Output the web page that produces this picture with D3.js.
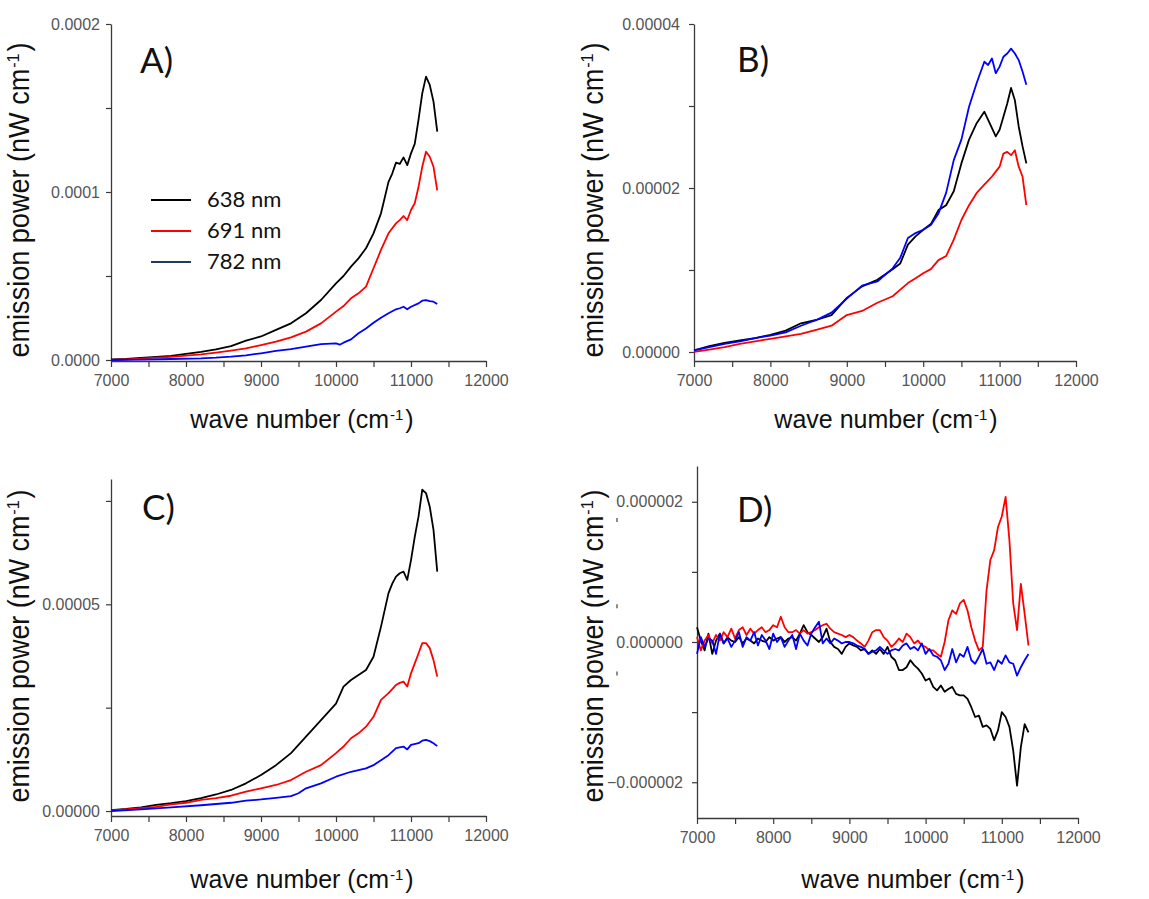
<!DOCTYPE html>
<html>
<head>
<meta charset="utf-8">
<script src="https://cdn.jsdelivr.net/npm/d3@7"></script>
<style>
  body { margin: 0; background: #fff; }
  svg text { font-family: Arial, "Liberation Sans", sans-serif; }
</style>
</head>
<body>
<svg width="1149" height="899"></svg>
<script>
// all emission values are in units of 1e-6 nW cm-1

// panel A
const waveA = [7000, 7200, 7400, 7600, 7800, 8000, 8200, 8400, 8600, 8800, 9000, 9200, 9400, 9600, 9800, 10000,
  10100, 10200, 10300, 10400, 10500, 10600, 10700, 10750, 10800, 10850, 10900, 10950, 11000, 11050, 11100, 11150,
  11200, 11250, 11300, 11350];
const a638 = [0.4, 0.6, 1.2, 1.8, 2.4, 3.6, 4.8, 6.3, 8.3, 11.5, 14.0, 17.9, 21.8, 27.8, 35.7, 45.6,
  50, 55.6, 60.5, 66.5, 75.4, 87.3, 106, 111, 117.5, 116.7, 120.6, 116, 123, 128.6, 142.9, 158.7,
  168.7, 163.7, 153.8, 135.9];
const a691 = [0, 0.4, 0.8, 1.4, 1.8, 2.6, 3.4, 4.4, 5.6, 6.9, 8.9, 10.9, 13.5, 16.9, 21.8, 28.8,
  32.1, 36.7, 39.7, 43.7, 54.6, 65.5, 75.4, 78.4, 81.3, 83.3, 85.7, 83.3, 89.3, 93.3, 103, 115,
  124, 121, 115, 101];
const waveA782 = [7000, 7400, 7800, 8200, 8400, 8600, 8800, 9000, 9200, 9400, 9600, 9800, 10000, 10050, 10100,
  10200, 10300, 10400, 10500, 10600, 10700, 10800, 10850, 10900, 10950, 11000, 11100, 11150, 11200, 11250, 11300, 11350];
const a782 = [0, 0.2, 0.6, 1.0, 1.4, 2.0, 2.8, 4.0, 5.4, 6.5, 7.9, 9.5, 9.9, 9.1, 10.3,
  12.3, 15.9, 18.8, 22.2, 25.2, 27.8, 30.2, 30.8, 31.7, 30.2, 31.7, 33.7, 35.3, 35.7, 35.1, 34.7, 33.3];

// panel B
const waveB = [7000, 7200, 7400, 7600, 7800, 8000, 8200, 8400, 8600, 8800, 9000, 9200, 9400,
  9600, 9700, 9800, 9900, 10000, 10100, 10200, 10300, 10400, 10500, 10600, 10700, 10800, 10850, 10900, 10950,
  11000, 11050, 11100, 11150, 11200, 11250, 11300, 11350];
const b638 = [0.2, 0.7, 1.1, 1.4, 1.7, 2.1, 2.6, 3.5, 3.9, 4.5, 6.6, 8.0, 8.8,
  10.1, 10.8, 13.1, 14.1, 14.9, 15.6, 17.3, 17.9, 19.6, 23.0, 25.9, 27.9, 29.3, 28.3, 27.3, 26.3,
  27.1, 28.7, 30.3, 32.2, 30.7, 27.5, 25.1, 23.0];
const b691 = [0.0, 0.3, 0.6, 1.0, 1.3, 1.6, 1.9, 2.2, 2.7, 3.2, 4.5, 5.0, 6.0,
  6.8, 7.6, 8.4, 9.0, 9.6, 10.1, 11.2, 11.7, 13.7, 16.1, 17.9, 19.4, 20.4, 20.9, 21.4, 22.0,
  22.6, 24.2, 24.4, 24.0, 24.6, 22.6, 21.4, 17.9];
const b782 = [0.2, 0.6, 1.0, 1.3, 1.7, 2.0, 2.4, 3.2, 3.9, 4.8, 6.5, 8.1, 8.6,
  10.2, 11.5, 13.9, 14.5, 14.9, 15.5, 16.9, 19.4, 23.4, 25.9, 29.9, 32.8, 35.4, 35.0, 35.8, 34.0,
  34.8, 36.0, 36.4, 37.0, 36.4, 35.6, 34.2, 32.6];

// panel C
const c638 = [0.2, 0.5, 0.9, 1.5, 1.9, 2.4, 3.1, 4.0, 5.1, 6.7, 8.7, 11.1, 14.0, 18.0, 22.0, 26.0,
  30.1, 31.7, 32.9, 34.1, 37.3, 44.6, 52.7, 55.0, 56.7, 57.5, 57.9, 55.9, 60.7, 66.3, 71.2, 77.7,
  76.9, 73.6, 68.0, 57.9];
const c691 = [0.1, 0.4, 0.7, 1.0, 1.6, 2.0, 2.7, 3.1, 3.7, 4.7, 5.5, 6.3, 7.5, 9.5, 11.1, 14.0,
  15.6, 17.6, 18.8, 20.4, 22.8, 26.9, 28.5, 29.5, 30.5, 31.0, 31.3, 30.1, 33.3, 35.7, 38.1, 40.6,
  40.6, 39.4, 36.5, 32.5];
const waveC782 = [7000, 7400, 7800, 8200, 8600, 8800, 9000, 9200, 9400, 9500, 9600, 9800, 10000, 10200,
  10400, 10500, 10600, 10700, 10800, 10900, 10950, 11000, 11100, 11150, 11200, 11250, 11300, 11350];
const c782 = [0, 0.4, 0.9, 1.4, 2.0, 2.5, 2.8, 3.2, 3.6, 4.3, 5.5, 6.7, 8.3, 9.5,
  10.3, 11.1, 12.3, 13.5, 15.2, 15.6, 14.9, 16.0, 16.4, 17.0, 17.2, 16.9, 16.4, 15.7];

// panel D
const waveD = [7000, 7050, 7100, 7150, 7200, 7250, 7300, 7350, 7400, 7450, 7500, 7550, 7600, 7650, 7700, 7750,
  7800, 7850, 7900, 7950, 8000, 8050, 8100, 8150, 8200, 8250, 8300, 8350, 8400, 8450, 8500, 8550, 8600, 8650,
  8700, 8750, 8800, 8850, 8900, 8950, 9000, 9050, 9100, 9150, 9200, 9250, 9300, 9350, 9400, 9450, 9500, 9550,
  9600, 9650, 9700, 9750, 9800, 9850, 9900, 9950, 10000, 10050, 10100, 10150, 10200, 10250, 10300, 10350,
  10400, 10450, 10500, 10550, 10600, 10650, 10700, 10750, 10800, 10850, 10900, 10950, 11000, 11050, 11100,
  11150, 11200, 11250, 11300, 11350];
const d638 = [0.21, 0.02, -0.12, 0.12, -0.17, 0.02, 0.12, -0.02, 0.07, 0.02, 0.0, 0.07, -0.02, 0.05, 0.02, -0.02,
  0.05, 0.02, 0.0, 0.07, 0.02, 0.05, 0.07, 0.0, 0.05, 0.07, 0.02, 0.12, 0.24, 0.14, 0.10, 0.05, 0.0, 0.07,
  0.19, 0.0, -0.07, -0.10, -0.17, -0.07, -0.02, -0.05, -0.07, -0.12, -0.10, -0.17, -0.12, -0.17, -0.10, -0.17,
  -0.07, -0.21, -0.26, -0.40, -0.40, -0.36, -0.26, -0.33, -0.38, -0.45, -0.55, -0.52, -0.64, -0.69, -0.62,
  -0.71, -0.67, -0.64, -0.74, -0.76, -0.76, -0.81, -0.93, -1.07, -1.05, -1.21, -1.19, -1.24, -1.40, -1.26,
  -1.00, -1.07, -1.21, -1.55, -2.05, -1.50, -1.17, -1.29];
const d691 = [0.07, -0.12, 0.02, 0.10, -0.02, 0.10, 0.02, 0.14, 0.07, 0.19, 0.05, 0.17, 0.21, 0.10, 0.19, 0.12,
  0.17, 0.21, 0.14, 0.17, 0.24, 0.21, 0.36, 0.21, 0.14, 0.14, 0.17, 0.12, 0.17, 0.12, 0.14, 0.17, 0.21, 0.24,
  0.26, 0.19, 0.14, 0.12, 0.10, 0.07, 0.10, 0.07, 0.02, -0.02, -0.07, 0.02, 0.14, 0.17, 0.17, 0.07, 0.02,
  -0.07, -0.02, 0.05, 0.0, 0.12, 0.07, -0.02, 0.02, -0.05, -0.07, -0.12, -0.12, -0.17, -0.21, 0.0, 0.31,
  0.45, 0.40, 0.55, 0.60, 0.45, 0.21, 0.02, -0.12, -0.07, 0.74, 1.17, 1.31, 1.64, 1.79, 2.07, 1.45,
  0.55, 0.17, 0.83, 0.40, -0.05];
const d782 = [-0.17, 0.07, -0.07, 0.05, 0.02, -0.17, 0.12, -0.02, 0.05, -0.07, 0.02, 0.14, -0.07, 0.07, 0.02, 0.14,
  -0.05, 0.10, 0.02, -0.10, 0.12, 0.0, 0.07, -0.07, 0.02, 0.10, -0.10, 0.12, 0.02, -0.05, 0.12, 0.21, 0.29,
  -0.02, 0.05, -0.02, 0.05, 0.02, -0.02, 0.0, 0.0, -0.02, -0.05, -0.07, -0.10, -0.17, -0.14, -0.12, -0.07,
  -0.12, -0.17, -0.12, -0.10, -0.12, -0.05, -0.02, -0.10, -0.07, -0.12, -0.02, -0.17, -0.10, -0.19, -0.21,
  -0.26, -0.40, -0.31, -0.10, -0.29, -0.17, -0.21, -0.07, -0.26, -0.31, -0.21, -0.10, -0.31, -0.29, -0.40,
  -0.26, -0.31, -0.19, -0.29, -0.31, -0.48, -0.36, -0.26, -0.17];

const legendNames = ["638 nm", "691 nm", "782 nm"];
const lineColors = ["#000000", "#ff0000", "#0000ff"];
const legendColors = ["#000000", "#ff0000", "#203864"];

const xTicks = [7000, 8000, 9000, 10000, 11000, 12000];
const xMinor = [7500, 8500, 9500, 10500, 11500];

const yTicksA = [0, 100, 200], yMinorA = [50, 150];
const yTicksB = [0, 20, 40], yMinorB = [10, 30];
const yTicksC = [0, 50], yMinorC = [25, 75];
const yTicksD = [-2, 0, 2], yMinorD = [-1, 1];
const strayD = [1.74, 0.51, -0.45]; // small stray marks left of the D tick labels

const svg = d3.select("svg");
svg.append("rect").attr("width", 1149).attr("height", 899).attr("fill", "#fff");

// panel layout
const panels = [
  { name: "A)", x0: 111, x1: 486, yTop: 24, yBot: 361, dom: [-0.6, 200], ticks: yTicksA, minor: yMinorA, dec: 4, pad: 6,
    series: [[waveA, a638], [waveA, a691], [waveA782, a782]], lab: [140, 73], xt: [302, 428], yt: [29, 200, 315] },
  { name: "B)", x0: 694, x1: 1076, yTop: 24, yBot: 361, dom: [-1.1, 40], ticks: yTicksB, minor: yMinorB, dec: 5, pad: 9,
    series: [[waveB, b638], [waveB, b691], [waveB, b782]], lab: [737, 72], xt: [886, 428], yt: [603, 200, 315] },
  { name: "C)", x0: 111, x1: 486, yTop: 479, yBot: 816, dom: [-1.2, 80.3], ticks: yTicksC, minor: yMinorC, dec: 5, pad: 6,
    series: [[waveA, c638], [waveA, c691], [waveC782, c782]], lab: [142, 520], xt: [302, 888], yt: [29, 646, 313] },
  { name: "D)", x0: 697, x1: 1078, yTop: 466, yBot: 818, dom: [-2.51, 2.51], ticks: yTicksD, minor: yMinorD, dec: 6, pad: 9,
    series: [[waveD, d638], [waveD, d691], [waveD, d782]], lab: [737, 522], xt: [913, 888], yt: [603, 646, 313] }
];

function styleAxis(g) {
  g.select(".domain").attr("stroke", "#3a3a3a").attr("stroke-width", 1.3);
  g.selectAll(".tick line").attr("stroke", "#3a3a3a").attr("stroke-width", 1.2);
  g.selectAll(".tick text").attr("fill", "#555").style("font-size", "16px")
    .style("font-family", "Arial, 'Liberation Sans', sans-serif");
}

// axis title with superscript -1
function addTitle(g, before, after) {
  g.append("tspan").text(before);
  g.append("tspan").attr("dx", 1).attr("baseline-shift", "super").style("font-size", "60%").text("-1");
  g.append("tspan").attr("dx", 2).text(after);
}

function drawPanel(p) {
  const x = d3.scaleLinear().domain([7000, 12000]).range([p.x0, p.x1]);
  const y = d3.scaleLinear().domain(p.dom).range([p.yBot, p.yTop]);
  const g = svg.append("g");

  // x axis
  g.append("g").attr("transform", `translate(0,${p.yBot})`)
    .call(d3.axisBottom(x).tickValues(xTicks).tickSize(6).tickSizeOuter(0).tickPadding(8).tickFormat(d3.format("d")))
    .call(styleAxis);
  g.append("g").attr("transform", `translate(0,${p.yBot})`)
    .call(d3.axisBottom(x).tickValues(xMinor).tickSize(6).tickSizeOuter(0).tickFormat(""))
    .call(styleAxis).select(".domain").remove();

  // y axis
  const fmt = d3.format(`.${p.dec}f`);
  g.append("g").attr("transform", `translate(${p.x0},0)`)
    .call(d3.axisLeft(y).tickValues(p.ticks).tickSize(5).tickSizeOuter(0).tickPadding(p.pad)
      .tickFormat(d => fmt(d * 1e-6)))
    .call(styleAxis);
  g.append("g").attr("transform", `translate(${p.x0},0)`)
    .call(d3.axisLeft(y).tickValues(p.minor).tickSize(5).tickSizeOuter(0).tickFormat(""))
    .call(styleAxis).select(".domain").remove();

  // curves
  p.series.forEach((s, k) => {
    const wave = s[0];
    g.append("path")
      .datum(s[1])
      .attr("fill", "none")
      .attr("stroke", lineColors[k])
      .attr("stroke-width", 1.8)
      .attr("stroke-linejoin", "round")
      .attr("d", d3.line().x((d, i) => x(wave[i])).y(d => y(d)));
  });

  // panel letter
  g.append("text").attr("x", p.lab[0]).attr("y", p.lab[1])
    .style("font-family", "Lato, 'Open Sans', sans-serif").style("font-size", "35px").attr("fill", "#111")
    .text(p.name);

  // axis titles
  const xt = g.append("text").attr("x", p.xt[0]).attr("y", p.xt[1]).attr("text-anchor", "middle")
    .style("font-size", "25px").attr("fill", "#111");
  addTitle(xt, "wave number (cm", ")");

  const yt = g.append("text").attr("text-anchor", "middle")
    .attr("transform", `translate(${p.yt[0]},${p.yt[1]}) rotate(-90)`)
    .attr("textLength", p.yt[2]).attr("lengthAdjust", "spacingAndGlyphs")
    .style("font-size", "29px").attr("fill", "#111");
  addTitle(yt, "emission power (nW cm", ")");

  return [x, y];
}

const scales = panels.map(drawPanel);

// stray marks on panel D
const yD = scales[3][1];
svg.selectAll(".stray").data(strayD).enter().append("line")
  .attr("x1", 617).attr("x2", 617)
  .attr("y1", d => yD(d) - 2).attr("y2", d => yD(d) + 2)
  .attr("stroke", "#666").attr("stroke-width", 1.5);

// legend in panel A
const leg = svg.append("g");
legendNames.forEach((n, i) => {
  const ly = 200 + i * 31;
  leg.append("line").attr("x1", 151).attr("x2", 191).attr("y1", ly).attr("y2", ly)
    .attr("stroke", legendColors[i]).attr("stroke-width", 2);
  leg.append("text").attr("x", 207).attr("y", ly + 7)
    .style("font-family", "Lato, 'Open Sans', sans-serif").style("font-size", "22px").attr("fill", "#111")
    .text(n);
});
</script>
</body>
</html>
